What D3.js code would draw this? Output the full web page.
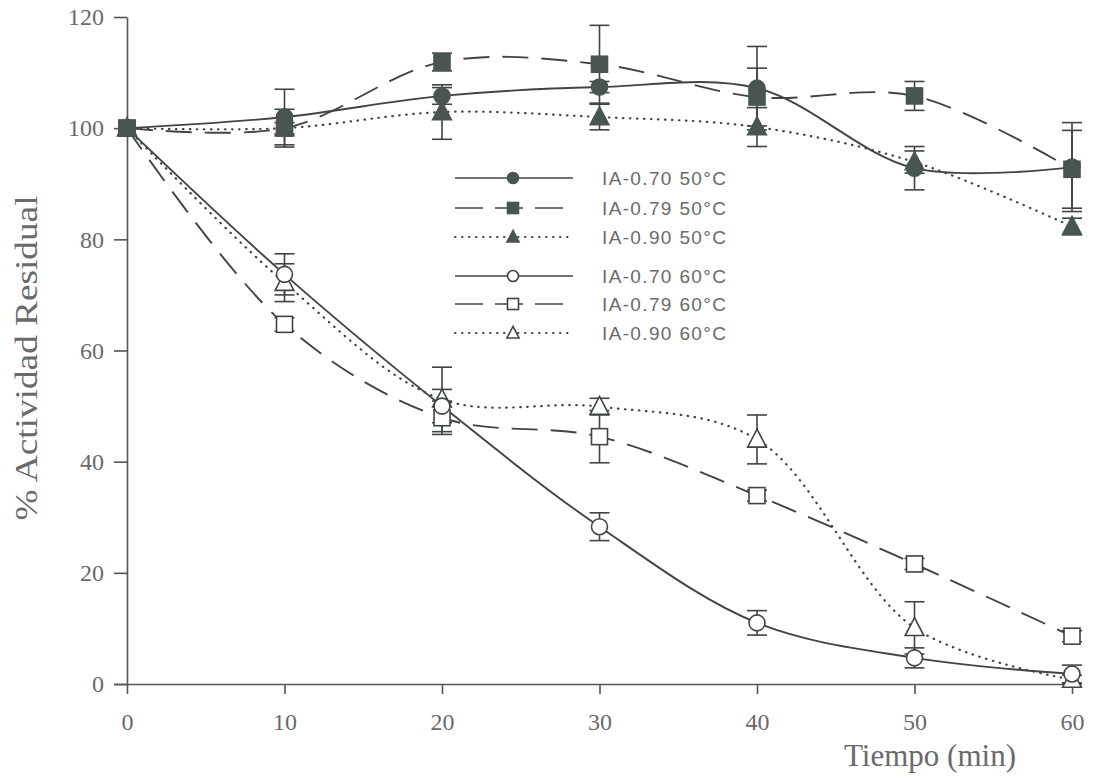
<!DOCTYPE html>
<html>
<head>
<meta charset="utf-8">
<script src="https://cdn.jsdelivr.net/npm/d3@7"></script>
<style>
  body { margin: 0; background: #fff; }
  svg { display: block; }
</style>
</head>
<body>
<svg id="chart" width="1098" height="779"></svg>
<script>
// ============= Data =============
const tiempos = [0, 10, 20, 30, 40, 50, 60];
const yTicks = [0, 20, 40, 60, 80, 100, 120];
const xTicks = [0, 10, 20, 30, 40, 50, 60];

const ia070_50 = [100, 102, 105.8, 107.4, 107.2, 92.8, 93];
const ia070_50Err = [0, 5, 1.5, 1, 7.5, 3.9, 8];
const ia079_50 = [100, 100, 111.9, 111.5, 105.6, 105.8, 92.6];
const ia079_50Err = [0, 1, 1.6, 7, 5.2, 2.6, 7];
const ia090_50 = [100, 100, 102.9, 102, 100.2, 93.9, 82.3];
const ia090_50Err = [0, 3.4, 4.9, 2.3, 3.5, 2, 1.5];

const ia070_60 = [100, 73.7, 50, 28.3, 11, 4.7, 1.8];
const ia070_60Err = [0, 3.7, 3, 2.5, 2.2, 1.8, 1.6];
const ia079_60 = [100, 64.7, 47.9, 44.5, 33.9, 21.6, 8.6];
const ia079_60Err = [0, 1.2, 3, 4.7, 1, 1, 1];
const ia090_60 = [100, 72.2, 51.2, 49.9, 44, 10.1, 0.8];
const ia090_60Err = [0, 3.4, 5.8, 1.5, 4.4, 4.7, 0.8];

const seriesNames = [
  "IA-0.70 50°C", "IA-0.79 50°C", "IA-0.90 50°C",
  "IA-0.70 60°C", "IA-0.79 60°C", "IA-0.90 60°C",
];

// ============= Styles =============
const LINE_COLOR = "#3f4543";
const FILL_DARK = "#4a5452";
const AXIS_COLOR = "#555";
const TEXT_COLOR = "#6a6a6a";
const DASH = "26,13";
const DOT = "0.5,6.5";

const series = [
  { name: seriesNames[0], values: ia070_50, err: ia070_50Err, shape: "circle", filled: true, dash: null },
  { name: seriesNames[1], values: ia079_50, err: ia079_50Err, shape: "square", filled: true, dash: DASH },
  { name: seriesNames[2], values: ia090_50, err: ia090_50Err, shape: "triangle", filled: true, dash: DOT },
  { name: seriesNames[3], values: ia070_60, err: ia070_60Err, shape: "circle", filled: false, dash: null },
  { name: seriesNames[4], values: ia079_60, err: ia079_60Err, shape: "square", filled: false, dash: DASH },
  { name: seriesNames[5], values: ia090_60, err: ia090_60Err, shape: "triangle", filled: false, dash: DOT },
];

// ============= Layout =============
const svg = d3.select("#chart");
const X0 = 127, X1 = 1072, Y0 = 684, Y1 = 17;

const xScale = d3.scaleLinear().domain([0, 60]).range([X0, X1]);
const yScale = d3.scaleLinear().domain([0, 120]).range([Y0, Y1]);

// Axes
const xAxis = svg.append("g")
  .attr("transform", `translate(0,${Y0})`)
  .call(d3.axisBottom(xScale).tickValues(xTicks).tickSize(10).tickPadding(19).tickSizeOuter(0));
const yAxis = svg.append("g")
  .attr("transform", `translate(${X0},0)`)
  .call(d3.axisLeft(yScale).tickValues(yTicks).tickSize(13).tickPadding(10).tickSizeOuter(0));

xAxis.select(".domain").attr("d", `M${X0 - 13},0.5H${X1 + 6}`);

[xAxis, yAxis].forEach((axis) => {
  axis.selectAll("path, line").attr("stroke", AXIS_COLOR).attr("stroke-width", 1.6);
  axis.selectAll("text")
    .style("font-family", "'Liberation Serif', 'Times New Roman', serif")
    .style("font-size", "24px")
    .attr("fill", TEXT_COLOR);
});

// Axis titles
svg.append("text")
  .attr("transform", `translate(37,358) rotate(-90)`)
  .attr("text-anchor", "middle")
  .attr("textLength", 325)
  .attr("lengthAdjust", "spacingAndGlyphs")
  .style("font-family", "'Liberation Serif', 'Times New Roman', serif")
  .style("font-size", "31px")
  .attr("fill", TEXT_COLOR)
  .text("% Actividad Residual");

svg.append("text")
  .attr("x", 930)
  .attr("y", 766)
  .attr("text-anchor", "middle")
  .style("font-family", "'Liberation Serif', 'Times New Roman', serif")
  .style("font-size", "31px")
  .attr("fill", TEXT_COLOR)
  .text("Tiempo (min)");

// ============= Marks =============
const line = d3.line()
  .x((d, i) => xScale(tiempos[i]))
  .y((d) => yScale(d))
  .curve(d3.curveCatmullRom.alpha(0.5));

const drawMarker = (g, shape, filled, cx, cy, size) => {
  const fill = filled ? FILL_DARK : "#fff";
  const stroke = filled ? FILL_DARK : LINE_COLOR;
  if (shape === "circle") {
    g.append("circle").attr("cx", cx).attr("cy", cy).attr("r", size / 2)
      .attr("fill", fill).attr("stroke", stroke).attr("stroke-width", 1.6);
  } else if (shape === "square") {
    g.append("rect").attr("x", cx - size / 2).attr("y", cy - size / 2)
      .attr("width", size).attr("height", size)
      .attr("fill", fill).attr("stroke", stroke).attr("stroke-width", 1.6);
  } else {
    const h = size * 1.0;
    const w = size * 1.1;
    g.append("path")
      .attr("d", `M${cx},${cy - h * 0.6}L${cx + w / 2},${cy + h * 0.45}L${cx - w / 2},${cy + h * 0.45}Z`)
      .attr("fill", fill).attr("stroke", stroke).attr("stroke-width", 1.6);
  }
};

const plot = svg.append("g");

// lines
series.forEach((s) => {
  plot.append("path")
    .attr("d", line(s.values))
    .attr("fill", "none")
    .attr("stroke", LINE_COLOR)
    .attr("stroke-width", s.dash === DOT ? 2.2 : 1.9)
    .attr("stroke-linecap", s.dash === DOT ? "round" : "butt")
    .attr("stroke-dasharray", s.dash);
});

// error bars
const CAP = 10;
series.forEach((s) => {
  s.values.forEach((v, i) => {
    const e = s.err[i];
    if (!e) return;
    const x = xScale(tiempos[i]);
    const yTop = yScale(v + e);
    const yBot = yScale(v - e);
    const g = plot.append("g").attr("stroke", LINE_COLOR).attr("stroke-width", 1.6);
    g.append("line").attr("x1", x).attr("x2", x).attr("y1", yTop).attr("y2", yBot);
    g.append("line").attr("x1", x - CAP).attr("x2", x + CAP).attr("y1", yTop).attr("y2", yTop);
    g.append("line").attr("x1", x - CAP).attr("x2", x + CAP).attr("y1", yBot).attr("y2", yBot);
  });
});

// markers (60°C first, 50°C on top)
[...series].reverse().forEach((s) => {
  s.values.forEach((v, i) => {
    drawMarker(plot, s.shape, s.filled, xScale(tiempos[i]), yScale(v), s.shape === "triangle" ? 17 : 16);
  });
});

// ============= Legend =============
const legendRows = [178, 208, 237, 276, 304, 333];
const legend = svg.append("g");
series.forEach((s, i) => {
  const y = legendRows[i];
  legend.append("line")
    .attr("x1", 455).attr("x2", 573).attr("y1", y).attr("y2", y)
    .attr("stroke", LINE_COLOR)
    .attr("stroke-width", s.dash === DOT ? 2 : 1.6)
    .attr("stroke-linecap", s.dash === DOT ? "round" : "butt")
    .attr("stroke-dasharray", s.dash === DASH ? "28,12" : s.dash === DOT ? "0.5,6.5" : null);
  drawMarker(legend, s.shape, s.filled, 513, y, 11);
  legend.append("text")
    .attr("x", 602).attr("y", y + 7)
    .attr("textLength", 124)
    .attr("lengthAdjust", "spacing")
    .style("font-family", "'Liberation Sans', Arial, sans-serif")
    .style("font-size", "19px")
    .attr("fill", TEXT_COLOR)
    .text(s.name);
});
</script>
</body>
</html>
